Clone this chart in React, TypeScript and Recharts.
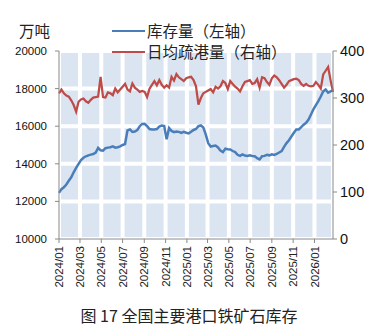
import React from 'react';
import { LineChart, Line, XAxis, YAxis, CartesianGrid } from 'recharts';

// 库存量（左轴，万吨）weekly
const inventory = [
  12450, 12650, 12750, 12900, 13100, 13280, 13550, 13780, 14000, 14200,
  14320, 14400, 14450, 14490, 14520, 14600, 14850, 14720, 14700, 14830,
  14860, 14880, 14930, 14860, 14880, 14930, 15000, 15050, 15780, 15830,
  15700, 15720, 15800, 16000, 16120, 16130, 16000, 15850, 15820, 15830,
  15850, 15980, 16030, 16010, 15300, 15900, 15750, 15680, 15720, 15700,
  15640, 15700, 15650, 15620, 15700, 15800, 15850, 16000, 16040, 15930,
  15550, 15100, 14920, 14950, 14970, 14870, 14700, 14620, 14800, 14770,
  14760, 14680, 14620, 14480, 14420, 14500, 14440, 14420, 14450, 14420,
  14400, 14300, 14230, 14400, 14420, 14480, 14450, 14500, 14470, 14530,
  14600, 14680, 14900, 15100, 15250, 15450, 15650, 15830, 15830, 15950,
  16080, 16180, 16350, 16620, 16900, 17120, 17330, 17580, 17850, 17950,
  17780, 17850, 17900,
];

// 日均疏港量（右轴）weekly
const clearance = [
  310, 318, 310, 305, 303, 295, 285, 271, 292, 297,
  299, 293, 290, 296, 301, 302, 303, 345, 302, 301,
  312, 310, 306, 320, 312, 318, 324, 330, 318, 314,
  331, 322, 318, 313, 315, 313, 302, 320, 328, 336,
  327, 338, 328, 322, 327, 322, 345, 337, 351, 344,
  340, 336, 342, 344, 345, 338, 325, 286, 300, 310,
  313, 316, 319, 312, 324, 320, 325, 336, 332, 319,
  336, 330, 324, 320, 314, 325, 334, 336, 338, 330,
  332, 340, 322, 344, 342, 334, 328, 342, 348, 344,
  338, 330, 322, 328, 336, 338, 340, 341, 338, 330,
  326, 330, 326, 325, 326, 334, 328, 320, 350, 358,
  366, 338, 313,
];

const tickLabels = [
  '2024/01', '2024/03', '2024/05', '2024/07', '2024/09', '2024/11',
  '2025/01', '2025/03', '2025/05', '2025/07', '2025/09', '2025/11', '2026/01',
];
const leftTicks = [10000, 12000, 14000, 16000, 18000, 20000];
const rightTicks = [0, 100, 200, 300, 400];

const DAY = 86400000;
const BASE = Date.UTC(2024, 0, 1);
const FIRST = (Date.UTC(2024, 0, 5) - BASE) / DAY;

const data = inventory.map((v, j) => ({ day: FIRST + 7 * j, inv: v, clr: clearance[j] }));
const lastDay = data[data.length - 1].day;
const tickDays = tickLabels.map((l) => {
  const [y, m] = l.split('/').map(Number);
  return (Date.UTC(y, m - 1, 5) - BASE) / DAY;
});
const labelOf: Record<number, string> = {};
tickDays.forEach((d, i) => (labelOf[d] = tickLabels[i]));

const AXIS = '#898989';
const BLUE = '#4a7ebb';
const RED = '#be4b48';

const XTick = (props: any) => {
  const { x, y, payload } = props;
  return (
    <g transform={`translate(${x},${y})`}>
      <text
        transform="rotate(-90)"
        textAnchor="end"
        dy="0.35em"
        x={-1}
        fontSize={11.5}
        fontFamily="Liberation Sans, Arial, sans-serif"
        fill="#222"
      >
        {labelOf[payload.value]}
      </text>
    </g>
  );
};

const cjk = '"Noto Sans CJK SC", sans-serif';

export default function App() {
  return (
    <div style={{ position: 'absolute', left: 0, top: 0, width: 378, height: 326, background: '#fff' }}>
      <LineChart
        width={378}
        height={326}
        data={data}
        margin={{ top: 51, right: 5, left: 9, bottom: 27 }}
      >
        <CartesianGrid
          yAxisId="left"
          fill="#dbe5f1"
          fillOpacity={1}
          stroke="#ffffff"
          strokeWidth={4}
        />
        <XAxis
          dataKey="day"
          type="number"
          domain={[FIRST, lastDay]}
          ticks={tickDays}
          interval={0}
          height={60}
          tick={<XTick />}
          tickSize={4}
          tickMargin={2}
          axisLine={{ stroke: AXIS }}
          tickLine={{ stroke: AXIS }}
        />
        <YAxis
          yAxisId="left"
          orientation="left"
          width={50}
          domain={[10000, 20000]}
          ticks={leftTicks}
          interval={0}
          tickSize={4}
          tickMargin={8}
          axisLine={{ stroke: AXIS }}
          tickLine={{ stroke: AXIS }}
          tick={{ fontSize: 11.5, fill: '#111', fontFamily: 'Liberation Sans, Arial, sans-serif' }}
        />
        <YAxis
          yAxisId="right"
          orientation="right"
          width={40}
          domain={[0, 400]}
          ticks={rightTicks}
          interval={0}
          tickSize={4}
          tickMargin={3}
          axisLine={{ stroke: AXIS }}
          tickLine={{ stroke: AXIS }}
          tick={{ fontSize: 14.5, fill: '#111', fontFamily: 'Liberation Sans, Arial, sans-serif' }}
        />
        <Line
          yAxisId="left"
          dataKey="inv"
          type="linear"
          stroke={BLUE}
          strokeWidth={2.5}
          dot={false}
          isAnimationActive={false}
        />
        <Line
          yAxisId="right"
          dataKey="clr"
          type="linear"
          stroke={RED}
          strokeWidth={2.25}
          dot={false}
          isAnimationActive={false}
        />
      </LineChart>
      <div style={{ position: 'absolute', left: 19, top: 22, fontSize: 15.5, lineHeight: '16px', fontFamily: cjk, color: '#222' }}>万吨</div>
      <div style={{ position: 'absolute', left: 112, top: 30, width: 33, height: 2, background: BLUE }} />
      <div style={{ position: 'absolute', left: 147, top: 22, fontSize: 15.5, lineHeight: '16px', fontFamily: cjk, color: '#222', whiteSpace: 'nowrap' }}>库存量（左轴）</div>
      <div style={{ position: 'absolute', left: 112, top: 51, width: 33, height: 2, background: RED }} />
      <div style={{ position: 'absolute', left: 147, top: 43, fontSize: 15.5, lineHeight: '16px', fontFamily: cjk, color: '#222', whiteSpace: 'nowrap' }}>日均疏港量（右轴）</div>
      <div style={{ position: 'absolute', left: 0, width: 378, top: 306, textAlign: 'center', fontSize: 16, lineHeight: '18px', fontFamily: cjk, color: '#222', whiteSpace: 'nowrap' }}>图 17 全国主要港口铁矿石库存</div>
    </div>
  );
}
